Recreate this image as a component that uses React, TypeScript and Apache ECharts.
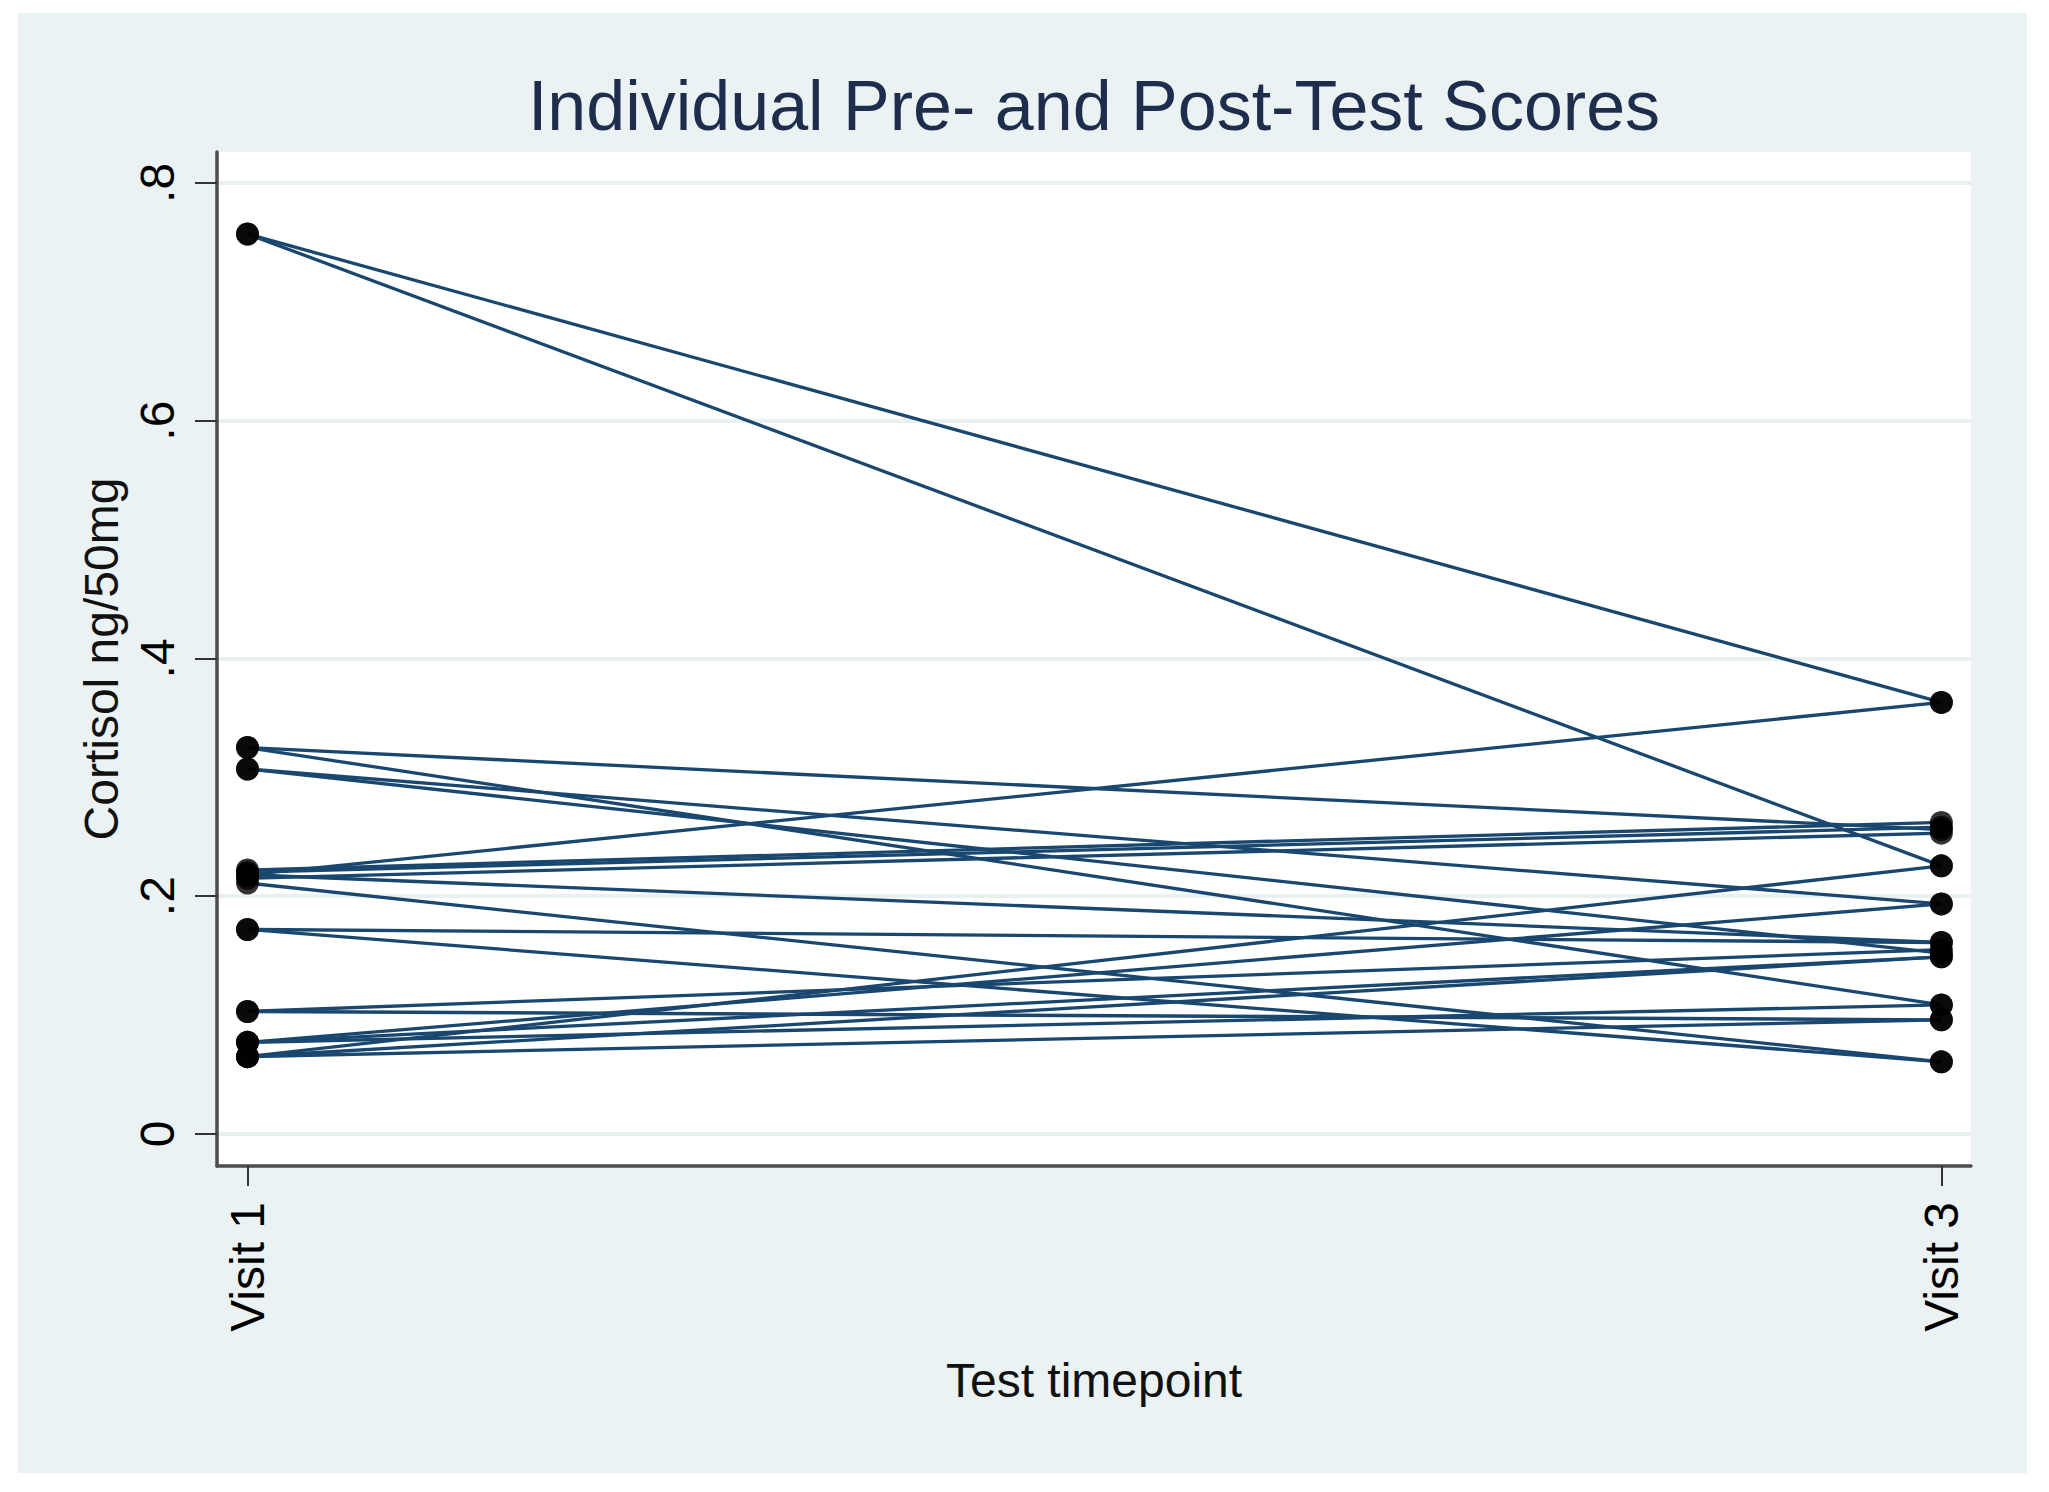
import React, { useEffect, useRef } from "react";
import * as echarts from "echarts";

const timepoints = [1, 3];
const timepointLabels = ["Visit 1", "Visit 3"];
const yTicks = [0, 0.2, 0.4, 0.6, 0.8];

// Cortisol (ng/50mg) per participant at Visit 1 and Visit 3
const visit1 = [
  0.757, 0.757, 0.218, 0.325, 0.325, 0.307, 0.307, 0.222, 0.22, 0.215, 0.218,
  0.211, 0.172, 0.172, 0.103, 0.103, 0.077, 0.077, 0.077, 0.065, 0.065, 0.065,
];
const visit3 = [
  0.363, 0.2255, 0.363, 0.256, 0.1085, 0.1935, 0.152, 0.262, 0.258, 0.253, 0.161,
  0.0606, 0.161, 0.0606, 0.155, 0.096, 0.1935, 0.149, 0.1085, 0.2255, 0.149, 0.096,
];

const FONT = '"Liberation Sans", Arial, "DejaVu Sans", sans-serif';

export default function App() {
  const ref = useRef<HTMLDivElement>(null);

  useEffect(() => {
    if (!ref.current) return;
    const chart = echarts.init(ref.current, null, { renderer: "svg" });

    const lineSeries = visit1.map((v, i) => ({
      type: "line",
      data: [
        [timepoints[0], v],
        [timepoints[1], visit3[i]],
      ],
      symbol: "none",
      silent: true,
      z: 2,
      lineStyle: { color: "#1a476f", width: 3.3 },
    }));

    const points = visit1
      .map((v) => [timepoints[0], v])
      .concat(visit3.map((v) => [timepoints[1], v]));

    chart.setOption({
      animation: false,
      backgroundColor: "#eaf2f3",
      grid: {
        left: 199,
        top: 139,
        width: 1754,
        height: 1014,
        show: true,
        backgroundColor: "#ffffff",
        borderWidth: 0,
      },
      graphic: [
        {
          type: "text",
          x: 1076,
          y: 93,
          style: {
            text: "Individual Pre- and Post-Test Scores",
            font: `70px ${FONT}`,
            fill: "#1f2d4d",
            align: "center",
            verticalAlign: "middle",
            textAlign: "center",
            textVerticalAlign: "middle",
          },
        },
      ],
      xAxis: {
        type: "value",
        min: 0.964,
        max: 3.035,
        name: "Test timepoint",
        nameLocation: "middle",
        nameGap: 190,
        nameTextStyle: { fontSize: 48, fontFamily: FONT, color: "#111" },
        axisLine: { show: true, onZero: false, lineStyle: { color: "#4d4d4d", width: 3.5 } },
        axisTick: {
          show: true,
          length: 20,
          customValues: timepoints,
          lineStyle: { color: "#333", width: 2 },
        },
        axisLabel: {
          customValues: timepoints,
          rotate: 90,
          margin: 36,
          fontSize: 48,
          fontFamily: FONT,
          color: "#000",
          formatter: (v: number) => timepointLabels[timepoints.indexOf(Math.round(v))] ?? "",
        },
        splitLine: { show: false },
      },
      yAxis: {
        type: "value",
        min: -0.027,
        max: 0.826,
        name: "Cortisol ng/50mg",
        nameLocation: "middle",
        nameRotate: 90,
        nameGap: 86,
        nameTextStyle: { fontSize: 48, fontFamily: FONT, color: "#111" },
        axisLine: { show: true, lineStyle: { color: "#4d4d4d", width: 3.5 } },
        axisTick: {
          show: true,
          length: 22,
          customValues: yTicks,
          lineStyle: { color: "#333", width: 2 },
        },
        axisLabel: {
          customValues: yTicks,
          rotate: 90,
          margin: 36,
          fontSize: 48,
          fontFamily: FONT,
          color: "#000",
          formatter: (v: number) => (v === 0 ? "0" : String(+v.toFixed(1)).replace(/^0/, "")),
        },
        splitLine: { show: true, lineStyle: { color: "#e8f0f2", width: 4 } },
      },
      series: [
        ...lineSeries,
        {
          type: "scatter",
          data: points,
          symbol: "circle",
          symbolSize: 23,
          z: 5,
          silent: true,
          itemStyle: { color: "#000000" },
        },
      ],
    });

    return () => chart.dispose();
  }, []);

  return (
    <div style={{ position: "absolute", left: 0, top: 0, width: 2049, height: 1492, background: "#ffffff" }}>
      <div ref={ref} style={{ position: "absolute", left: 18, top: 13, width: 2009, height: 1460 }} />
    </div>
  );
}
